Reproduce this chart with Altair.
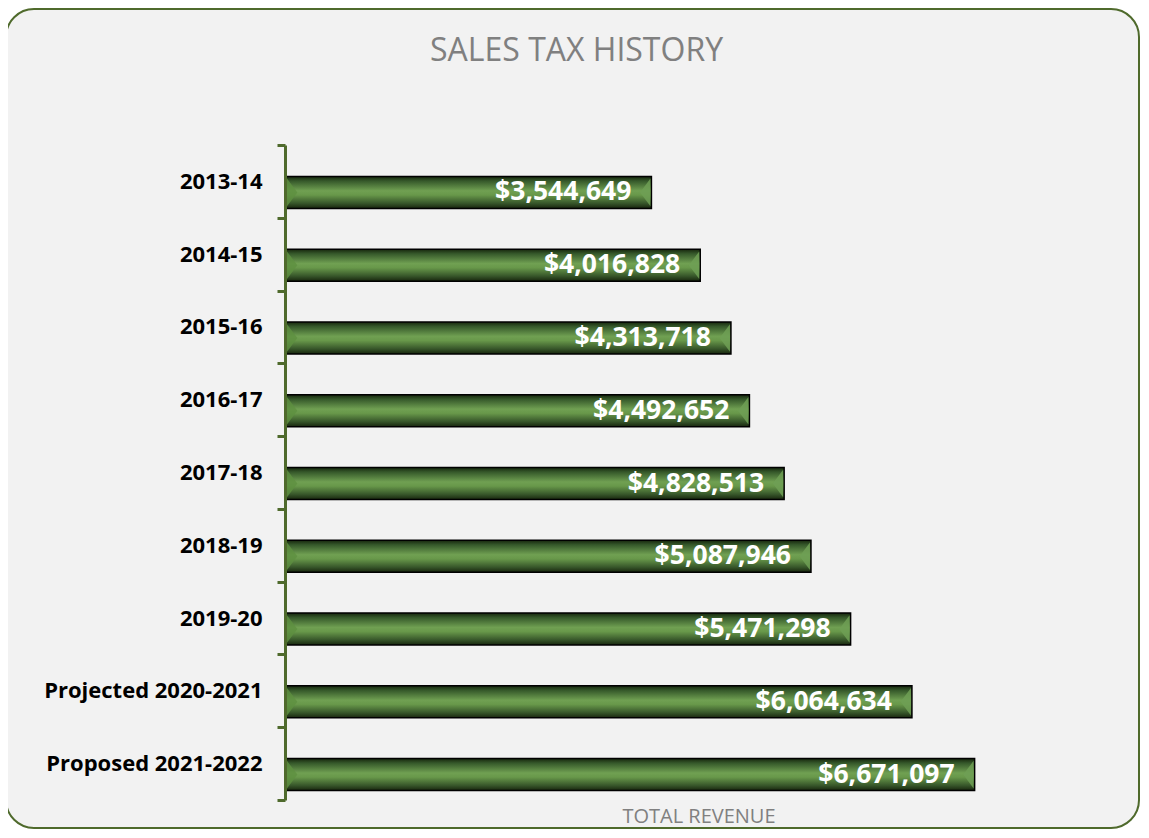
import altair as alt
import pandas as pd

categories = ["2013-14", "2014-15", "2015-16", "2016-17", "2017-18", "2018-19\u00a0",
              "2019-20", "Projected 2020-2021", "Proposed 2021-2022"]
values = [3544649, 4016828, 4313718, 4492652, 4828513, 5087946, 5471298, 6064634, 6671097]

df = pd.DataFrame({"year": categories, "value": values})

W, H = 827, 655
GREEN = "#4f6a2c"
BAR_OFF = 11

ysc = alt.Scale(domain=categories, paddingInner=0, paddingOuter=0)
xsc = alt.Scale(domain=[0, 8000000], nice=False)

frame = alt.Chart(pd.DataFrame({"a": [0]})).mark_rect(
    fill="#f2f2f2", stroke=GREEN, strokeWidth=2, cornerRadius=28
).encode(
    x=alt.value(-279), x2=alt.value(854), y=alt.value(-136), y2=alt.value(683)
)

grad = alt.Gradient(
    gradient="linear", x1=0, x2=0, y1=0, y2=1,
    stops=[
        alt.GradientStop(color="#16260d", offset=0.0),
        alt.GradientStop(color="#35582a", offset=0.14),
        alt.GradientStop(color="#70a052", offset=0.45),
        alt.GradientStop(color="#68984a", offset=0.58),
        alt.GradientStop(color="#37562a", offset=0.84),
        alt.GradientStop(color="#18260e", offset=1.0),
    ],
)

base = alt.Chart(df)

bars = base.mark_bar(
    color=grad, stroke="#000000", strokeWidth=1.5, size=32, yOffset=BAR_OFF
).encode(
    y=alt.Y("year:N", scale=ysc, sort=categories,
            axis=alt.Axis(title=None, labelFont="Open Sans", labelFontWeight="bold",
                          labelFontSize=22, labelColor="#000000", labelPadding=15,
                          domainColor=GREEN, domainWidth=3, tickColor=GREEN, tickWidth=3,
                          tickSize=8, tickBand="extent", tickExtra=True, zindex=1,
                          labelLimit=400)),
    x=alt.X("value:Q", scale=xsc,
            axis=alt.Axis(title="TOTAL REVENUE", labels=False, ticks=False, domain=False,
                          grid=False, titleFont="Open Sans", titleFontSize=20,
                          titleFontWeight="normal", titleColor="#808080",
                          titlePadding=6, zindex=1)),
)

right_wedge = base.mark_point(
    shape="M 0 -1 L -0.75 0 L 0 1 Z", size=760, filled=True, fill="#6f9f55",
    opacity=0.85, strokeWidth=0, yOffset=BAR_OFF, xOffset=-1
).encode(y=alt.Y("year:N", scale=ysc, sort=categories), x=alt.X("value:Q", scale=xsc))

left_wedge = base.mark_point(
    shape="M 0 -1 L 0.75 0 L 0 1 Z", size=760, filled=True, fill="#5e9040",
    opacity=0.8, strokeWidth=0, yOffset=BAR_OFF, xOffset=2
).encode(y=alt.Y("year:N", scale=ysc, sort=categories), x=alt.datum(0))

labels = base.mark_text(
    align="right", baseline="middle", dx=-20, yOffset=BAR_OFF, font="Open Sans",
    fontWeight="bold", fontSize=26.5, color="#ffffff"
).encode(
    y=alt.Y("year:N", scale=ysc, sort=categories),
    x=alt.X("value:Q", scale=xsc),
    text=alt.Text("value:Q", format="$,.0f"),
)

chart = alt.layer(frame, bars, left_wedge, right_wedge, labels).properties(
    width=W, height=H,
    title=alt.TitleParams("SALES TAX HISTORY", font="Open Sans", fontSize=32,
                          fontWeight="normal", color="#808080", anchor="middle",
                          baseline="alphabetic", dx=-122, offset=-85, zindex=1),
    autosize=alt.AutoSizeParams(type="none"),
    padding={"left": 277, "top": 137, "right": 29, "bottom": 30},
    background="white",
).configure_view(strokeWidth=0).configure(font="Open Sans")

chart.save("out.html", embed_options={"renderer": "svg", "actions": False})
